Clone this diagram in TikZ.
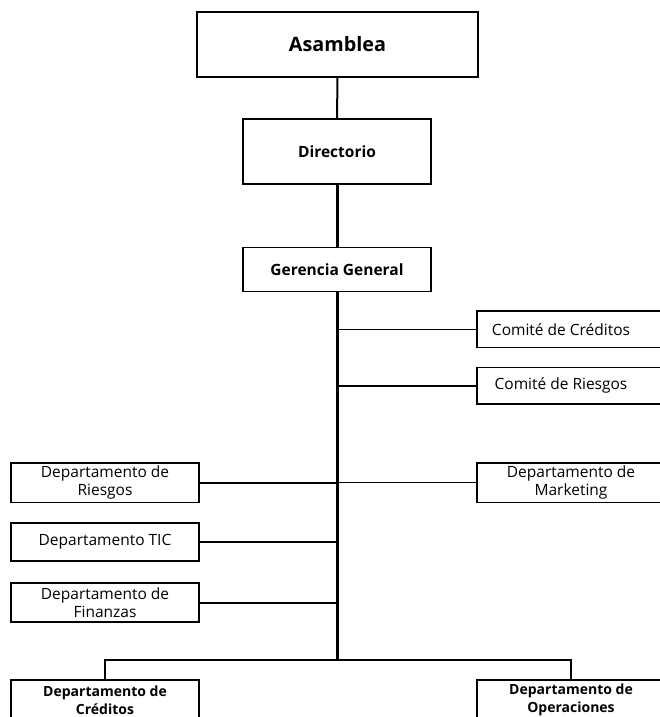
\documentclass[tikz,border=0pt]{standalone}
\usepackage{fontspec}
\setmainfont{Open Sans}
\usepackage{tikz}
\tikzset{
    org-box/.style = {draw=black, fill=white, line width=1.5pt, rectangle, inner sep=0pt, align=center, minimum width=188pt, font=\fontsize{15.5}{18.5}\selectfont},
    org-box-bold/.style = {org-box, font=\fontsize{15.5}{18}\selectfont\bfseries},
    thin-link/.style = {draw=black, line width=1pt},
    thick-link/.style = {draw=black, line width=2pt},
    trunk-link/.style = {draw=black, line width=3pt},
}

\begin{document}
\begin{tikzpicture}[x=1pt,y=-1pt]
\clip (0,0) rectangle (660,717);
\coordinate (trunk) at (337,660);
\node[org-box-bold, minimum width=281pt, minimum height=65pt, font=\fontsize{19.8}{22}\selectfont\bfseries] (asamblea) at (337.5,44.3) {Asamblea};
\node[org-box-bold, minimum height=65pt] (directorio) at (337,151.5) {Directorio};
\node[org-box-bold, minimum height=44pt] (gerencia) at (337,269.7) {Gerencia General};
\node[org-box, minimum height=36.7pt] (comite-creditos) at (571,329.3) {Comité de Créditos\hspace{20pt}};
\node[org-box, minimum height=36.7pt] (comite-riesgos) at (571,385.7) {Comité de Riesgos\hspace{20pt}};
\node[org-box, minimum height=39.5pt] (dep-riesgos) at (105,482.5) {Departamento de\\Riesgos};
\node[org-box, minimum height=39.5pt] (dep-marketing) at (571,482.5) {Departamento de\\Marketing};
\node[org-box, minimum height=38pt] (dep-tic) at (105,542) {Departamento TIC};
\node[org-box, minimum height=39pt] (dep-finanzas) at (105,602.5) {Departamento de\\Finanzas};
\node[org-box-bold, line width=2.5pt, minimum height=40pt, font=\fontsize{14}{18}\selectfont\bfseries] (dep-creditos) at (105,700) {Departamento de\\Créditos};
\node[org-box-bold, line width=2.5pt, minimum height=40pt, font=\fontsize{14}{18}\selectfont\bfseries] (dep-operaciones) at (571,700) {Departamento de\\Operaciones};

\draw[thick-link] (asamblea) -- (directorio);
\draw[trunk-link] (directorio) -- (gerencia);
\draw[trunk-link] (gerencia) -- (trunk);
\draw[thin-link] (comite-creditos.west) -- (comite-creditos.west -| trunk);
\draw[thick-link] (comite-riesgos.west) -- (comite-riesgos.west -| trunk);
\draw[thick-link] (dep-riesgos.east) -- (dep-riesgos.east -| trunk);
\draw[thin-link] (dep-marketing.west) -- (dep-marketing.west -| trunk);
\draw[thick-link] (dep-tic.east) -- (dep-tic.east -| trunk);
\draw[thick-link] (dep-finanzas.east) -- (dep-finanzas.east -| trunk);
\draw[thick-link] (dep-creditos.north) |- (trunk) -| (dep-operaciones.north);
\end{tikzpicture}
\end{document}
